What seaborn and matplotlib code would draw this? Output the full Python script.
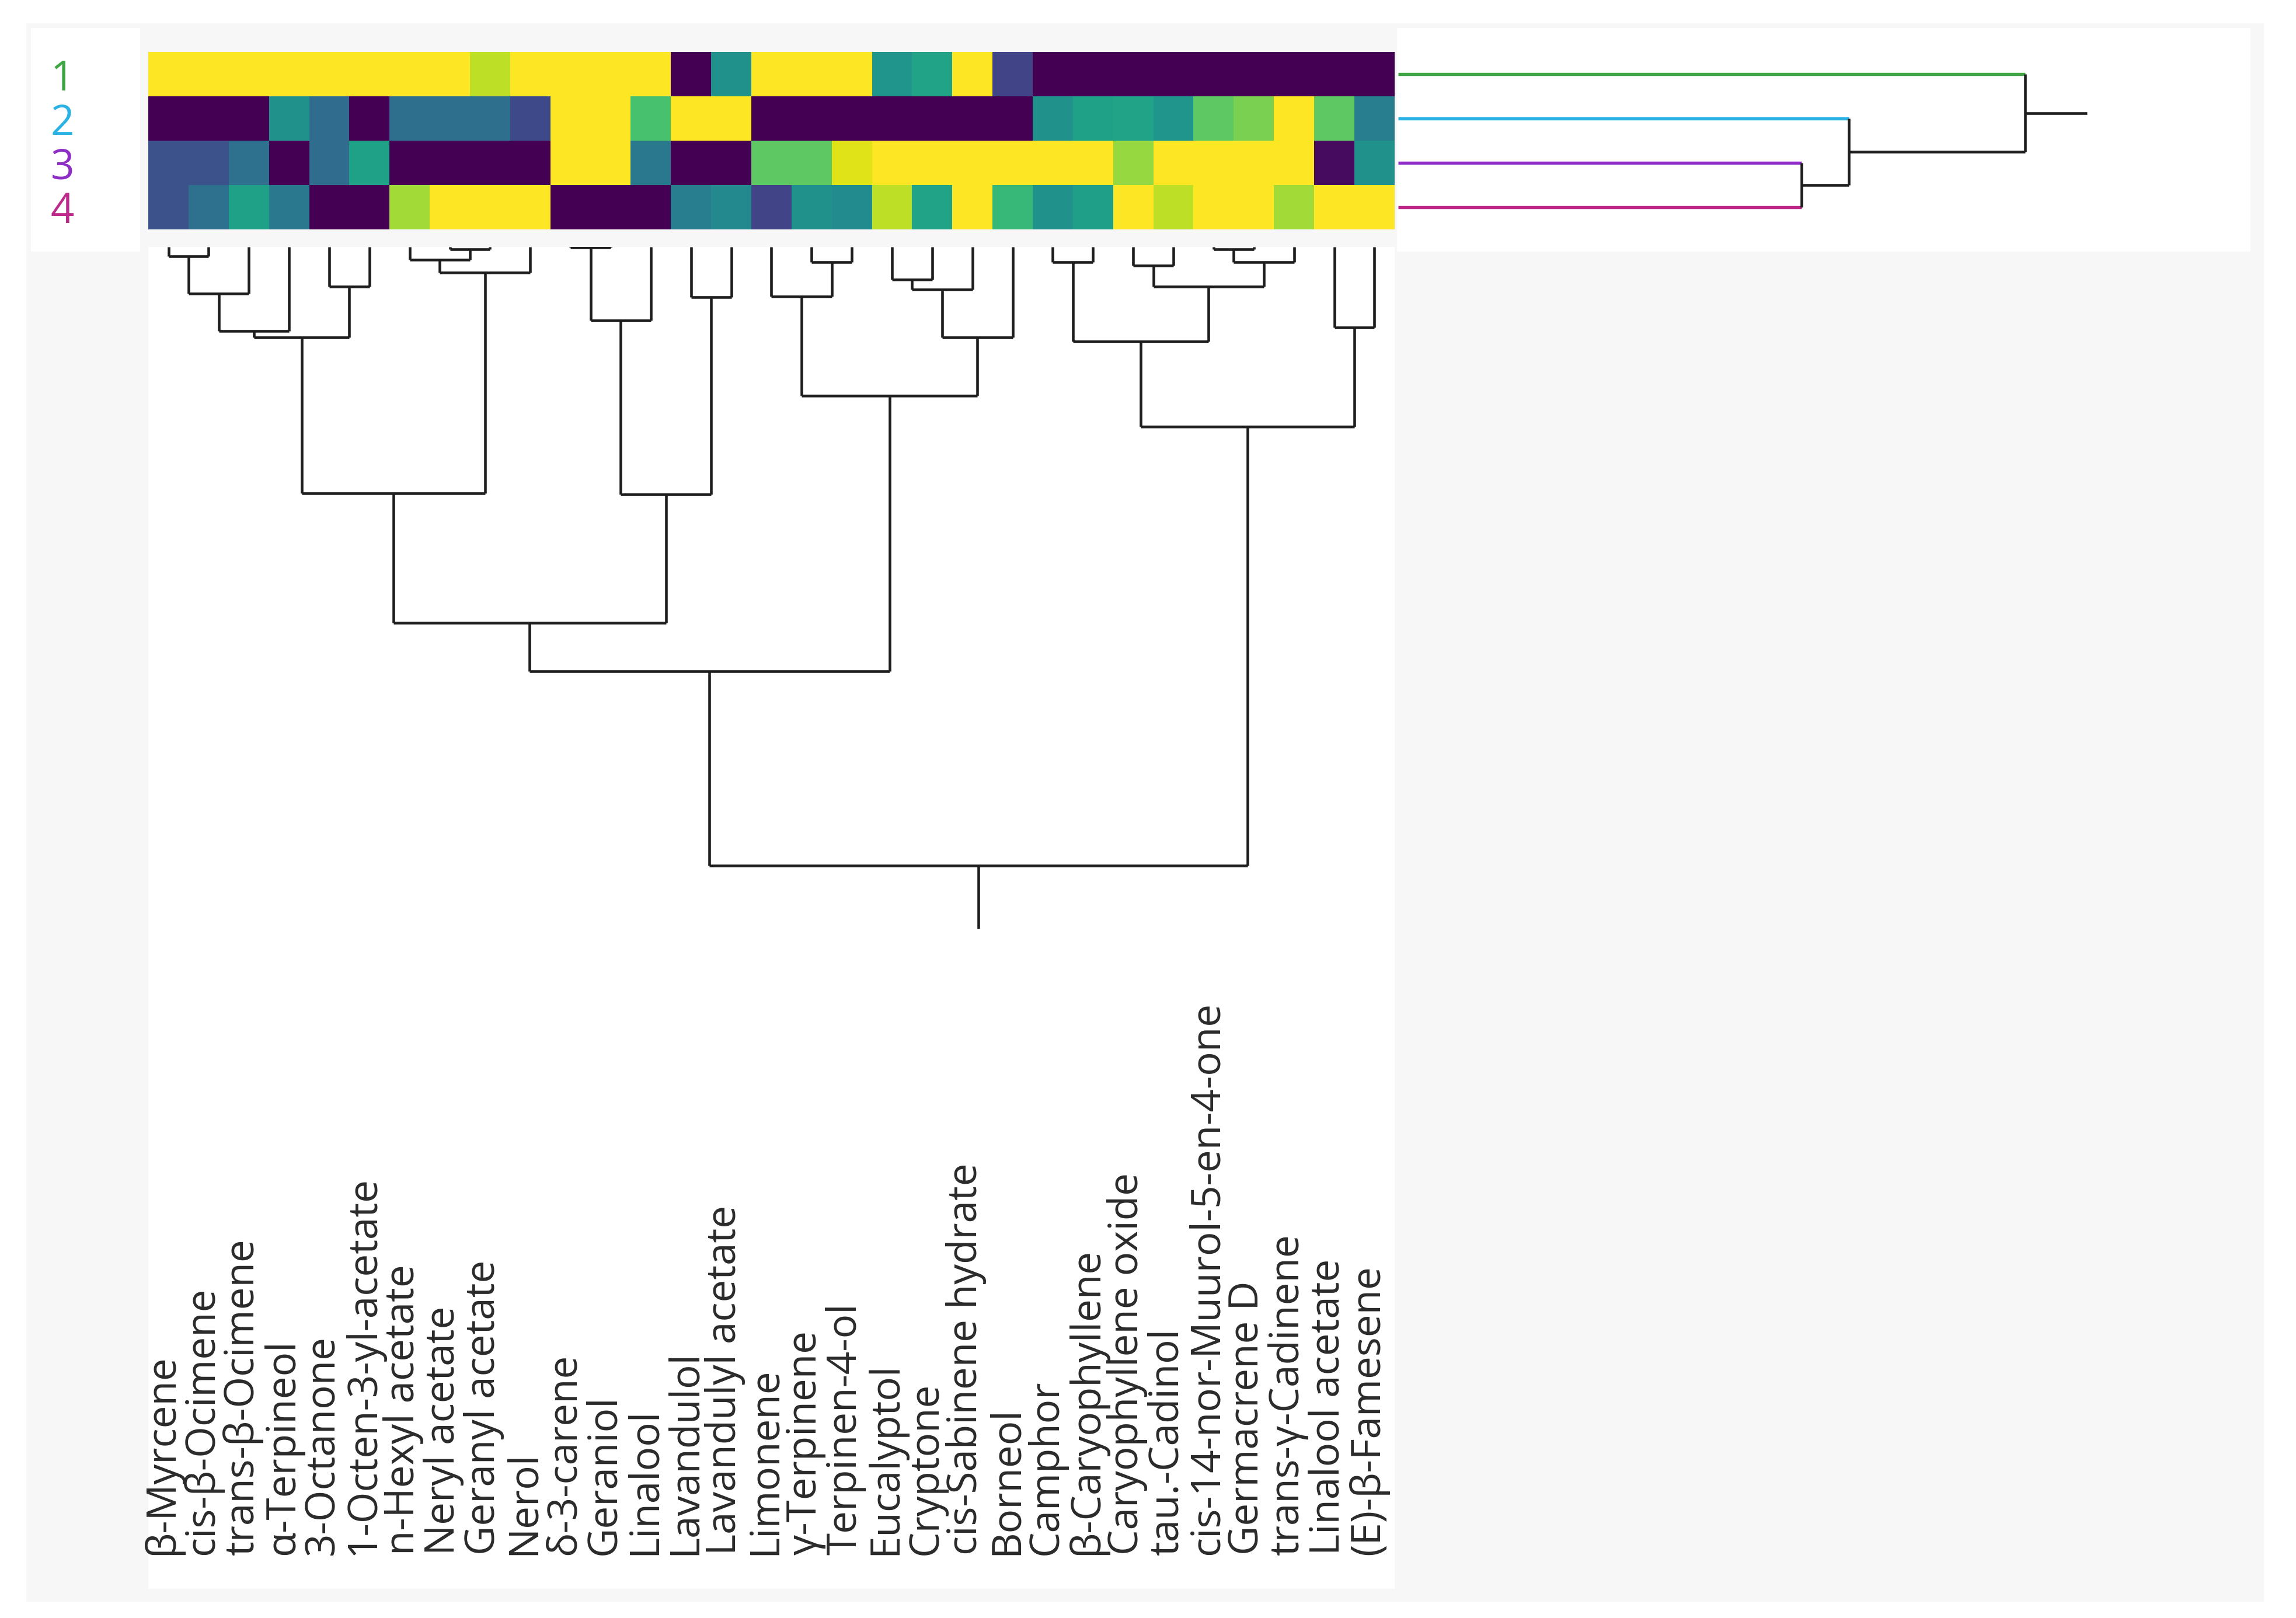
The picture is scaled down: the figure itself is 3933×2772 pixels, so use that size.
import numpy as np
import pandas as pd
import matplotlib
matplotlib.use("Agg")
import matplotlib.pyplot as plt
from matplotlib.patches import Rectangle
import seaborn as sns

sns.set_style("white")
plt.rcParams['font.family'] = ['Open Sans', 'DejaVu Sans']

# compounds in the order of the column dendrogram leaves
compounds = ["β-Myrcene", "cis-β-Ocimene", "trans-β-Ocimene", "α-Terpineol", "3-Octanone",
             "1-Octen-3-yl-acetate", "n-Hexyl acetate", "Neryl acetate", "Geranyl acetate", "Nerol",
             "δ-3-carene", "Geraniol", "Linalool", "Lavandulol", "Lavandulyl acetate",
             "Limonene", "γ-Terpinene", "Terpinen-4-ol", "Eucalyptol", "Cryptone",
             "cis-Sabinene hydrate", "Borneol", "Camphor", "β-Caryophyllene", "Caryophyllene oxide",
             "tau.-Cadinol", "cis-14-nor-Muurol-5-en-4-one", "Germacrene D", "trans-γ-Cadinene",
             "Linalool acetate", "(E)-β-Famesene"]

samples = ["1", "2", "3", "4"]
sample_colors = ["#3da642", "#29b2e3", "#8e2ec7", "#bd2a8c"]

# scaled abundance (0-1 per compound)
s1 = [1.00, 1.00, 1.00, 1.00, 1.00, 1.00, 1.00, 1.00, 0.90, 1.00, 1.00, 1.00, 1.00, 0.00, 0.50, 1.00,
      1.00, 1.00, 0.52, 0.58, 1.00, 0.20, 0.00, 0.00, 0.00, 0.00, 0.00, 0.00, 0.00, 0.00, 0.00]
s2 = [0.00, 0.00, 0.00, 0.50, 0.35, 0.00, 0.36, 0.36, 0.36, 0.22, 1.00, 1.00, 0.71, 1.00, 1.00, 0.00,
      0.00, 0.00, 0.00, 0.00, 0.00, 0.00, 0.50, 0.57, 0.58, 0.52, 0.75, 0.80, 1.00, 0.75, 0.42]
s3 = [0.25, 0.25, 0.37, 0.00, 0.35, 0.57, 0.00, 0.00, 0.00, 0.00, 1.00, 1.00, 0.40, 0.00, 0.00, 0.75,
      0.75, 0.95, 1.00, 1.00, 1.00, 1.00, 1.00, 1.00, 0.84, 1.00, 1.00, 1.00, 1.00, 0.03, 0.50]
s4 = [0.25, 0.37, 0.57, 0.40, 0.00, 0.00, 0.86, 1.00, 1.00, 1.00, 0.00, 0.00, 0.00, 0.42, 0.47, 0.20,
      0.50, 0.48, 0.90, 0.58, 1.00, 0.67, 0.50, 0.56, 1.00, 0.90, 1.00, 1.00, 0.86, 1.00, 1.00]

# column linkage: (left node, right node, distance); new nodes numbered from 31
col_links = [(0, 1, 0.064), (31, 2, 0.315), (32, 3, 0.570), (4, 5, 0.270), (33, 34, 0.615),
             (7, 8, 0.013), (6, 36, 0.085), (37, 9, 0.175), (35, 38, 1.675),
             (10, 11, 0.003), (40, 12, 0.500), (13, 14, 0.340), (41, 42, 1.683), (39, 43, 2.555),
             (16, 17, 0.103), (15, 45, 0.335), (18, 19, 0.220), (47, 20, 0.290), (48, 21, 0.615),
             (46, 49, 1.010), (44, 50, 2.885),
             (22, 23, 0.103), (24, 25, 0.127), (26, 27, 0.013), (54, 28, 0.103), (53, 55, 0.270),
             (52, 56, 0.643), (29, 30, 0.546), (57, 58, 1.220), (51, 59, 4.205)]
col_stub = 0.43

# row linkage: new nodes numbered from 4
row_links = [(2, 3, 2.74), (1, 4, 3.06), (0, 5, 4.26)]
row_stub = 0.42

df = pd.DataFrame([s1, s2, s3, s4], index=samples, columns=compounds)

W, H = 1560.0, 1100.0


def box(x0, y0, x1, y1):
    return [x0 / W, 1 - y1 / H, (x1 - x0) / W, (y1 - y0) / H]


def dendro(leaf_pos, links):
    pos = list(leaf_pos)
    hgt = [0.0] * len(leaf_pos)
    segs = []
    for a, b, h in links:
        segs.append((pos[a], hgt[a], pos[a], h, a))
        segs.append((pos[b], hgt[b], pos[b], h, b))
        segs.append((pos[a], h, pos[b], h, -1))
        pos.append((pos[a] + pos[b]) / 2)
        hgt.append(h)
    return segs, pos[-1], hgt[-1]


fig = plt.figure(figsize=(13.11, 9.24), dpi=300, facecolor="white")
fig.patches.append(Rectangle((18 / W, 1 - 1089 / H), 1520 / W, 1073 / H,
                             transform=fig.transFigure, facecolor="#f7f7f7", edgecolor="none", zorder=-5))

line_kw = dict(color="#1e1e1e", lw=1.1, solid_capstyle="butt")

# row labels panel
ax_lab = fig.add_axes(box(21, 19, 95, 171))
ax_lab.set_xlim(0, 74)
ax_lab.set_ylim(4.5, -0.548)
ax_lab.set_facecolor("white")
ax_lab.set_xticks([])
ax_lab.set_yticks([])
for sp in ax_lab.spines.values():
    sp.set_visible(False)
for i, (s, c) in enumerate(zip(samples, sample_colors)):
    ax_lab.text(29.5, i + 0.5, s, color=c, fontsize=17, ha="right", va="center_baseline")

# heatmap
ax_heat = fig.add_axes(box(100.8, 35.5, 947.5, 156))
sns.heatmap(df, ax=ax_heat, cmap="viridis", vmin=0, vmax=1, cbar=False,
            xticklabels=False, yticklabels=False)
ax_heat.set_xlabel("")
ax_heat.set_ylabel("")

# row dendrogram
ax_row = fig.add_axes(box(949, 19, 1529, 171))
ax_row.set_facecolor("white")
ax_row.set_xlim(-0.01, 5.79)
ax_row.set_ylim(4.5, -0.548)
segs, rp, rh = dendro([i + 0.5 for i in range(4)], row_links)
for y0, x0, y1, x1, leaf in segs:
    if 0 <= leaf < 4:
        ax_row.plot([x0, x1], [y0, y1], color=sample_colors[leaf], lw=1.3, solid_capstyle="butt")
    else:
        ax_row.plot([x0, x1], [y0, y1], **line_kw)
ax_row.plot([rh, rh + row_stub], [rp, rp], **line_kw)
ax_row.set_xticks([])
ax_row.set_yticks([])
for sp in ax_row.spines.values():
    sp.set_visible(False)

# column dendrogram with compound labels underneath
ax_col = fig.add_axes(box(100.8, 168, 947.5, 1080))
ax_col.set_facecolor("white")
ax_col.set_xlim(0, len(compounds))
ax_col.set_ylim(9.12, 0)
segs, cp, ch = dendro([i + 0.5 for i in range(len(compounds))], col_links)
for x0, y0, x1, y1, leaf in segs:
    ax_col.plot([x0, x1], [y0, y1], **line_kw)
ax_col.plot([cp, cp], [ch, ch + col_stub], **line_kw)
for i, name in enumerate(compounds):
    ax_col.text(i + 0.35, 8.89, name, rotation=90, rotation_mode="anchor",
                ha="left", va="center", fontsize=16.6, color="#2a2a2a")
ax_col.set_xticks([])
ax_col.set_yticks([])
for sp in ax_col.spines.values():
    sp.set_visible(False)

fig.savefig("out.png", dpi=300, facecolor="white")
